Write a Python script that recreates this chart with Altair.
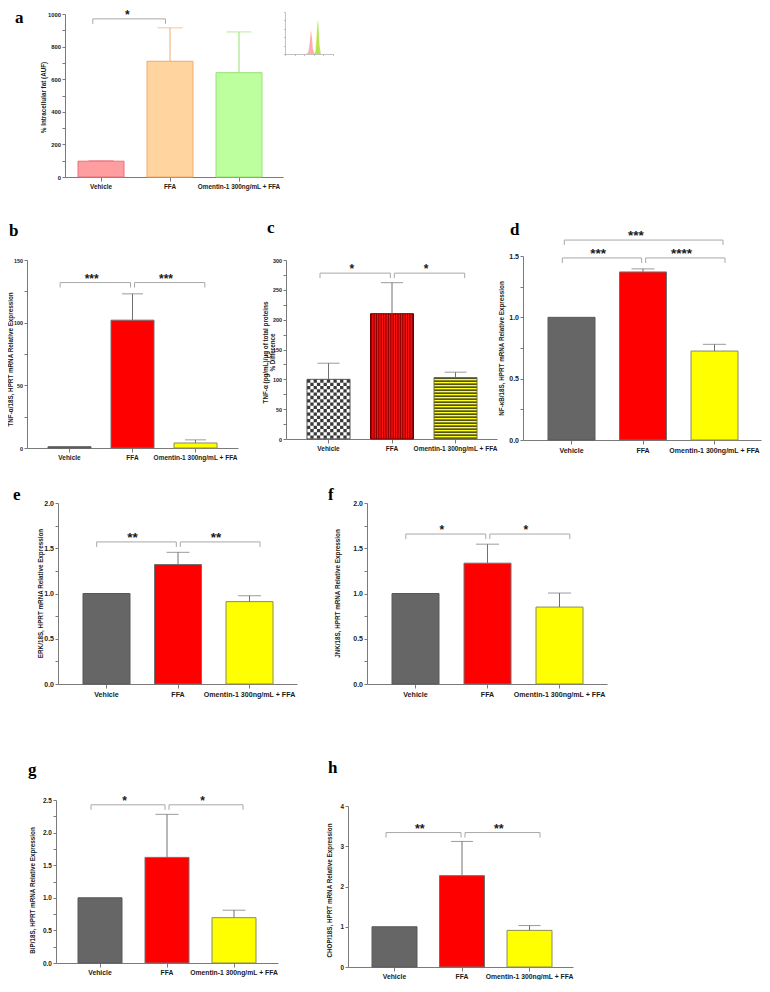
import altair as alt
import pandas as pd

# ---------------- data ----------------
CATS = ["Vehicle", "FFA", "Omentin-1 300ng/mL + FFA"]

a_mean = [97, 710, 640]
a_upper = [100, 915, 890]
b_mean = [1, 102, 4]
b_upper = [1, 123, 6.5]
c_mean = [100, 210, 103]
c_upper = [127, 262, 112]
d_mean = [1.0, 1.37, 0.725]
d_upper = [1.0, 1.395, 0.78]
e_mean = [1.0, 1.32, 0.91]
e_upper = [1.0, 1.455, 0.975]
f_mean = [1.0, 1.335, 0.85]
f_upper = [1.0, 1.545, 1.005]
g_mean = [1.0, 1.62, 0.695]
g_upper = [1.0, 2.28, 0.81]
h_mean = [1.0, 2.27, 0.91]
h_upper = [1.0, 3.12, 1.03]

# significance brackets: (group 1, group 2, level, label)
a_sig = [("Vehicle", "FFA", 970, "*")]
b_sig = [("Vehicle", "FFA", 132, "***"), ("FFA", CATS[2], 132, "***")]
c_sig = [("Vehicle", "FFA", 278, "*"), ("FFA", CATS[2], 278, "*")]
d_sig = [("Vehicle", "FFA", 1.484, "***"), ("FFA", CATS[2], 1.484, "****"),
         ("Vehicle", CATS[2], 1.63, "***")]
e_sig = [("Vehicle", "FFA", 1.57, "**"), ("FFA", CATS[2], 1.57, "**")]
f_sig = [("Vehicle", "FFA", 1.657, "*"), ("FFA", CATS[2], 1.657, "*")]
g_sig = [("Vehicle", "FFA", 2.426, "*"), ("FFA", CATS[2], 2.426, "*")]
h_sig = [("Vehicle", "FFA", 3.34, "**"), ("FFA", CATS[2], 3.34, "**")]

# inset histogram (flow cytometry overlay)
pink_x = [44, 48, 51, 53, 54, 56, 58, 61]
pink_y = [0, 3, 20, 45, 58, 40, 12, 0]
green_x = [61, 64, 66, 68, 69, 70, 72, 75]
green_y = [0, 5, 30, 70, 82, 65, 20, 0]
yellow_x = [60, 63, 65, 67, 68, 69, 71, 73]
yellow_y = [0, 6, 35, 68, 80, 60, 15, 0]

LETTERS = ["a", "b", "c", "d", "e", "f", "g", "h"]

# ---------------- layout / style ----------------
W, H = 754, 972
OFF = 8
FONT = "Liberation Sans"
SERIF = "Liberation Serif"
AXC = "#7a7a7a"
TXT = "#1a1a1a"
BRK = "#a8a8a8"
ERRC = "#707070"

GEN_FILL = ["#666666", "#FF0000", "#FFFF00"]
GEN_STROKE = ["#585858", "#707070", "#8a8a60"]
A_FILL = ["#FF9EA0", "#FFD49E", "#BDFF9E"]
A_STROKE = ["#E8707A", "#F2AA6A", "#96E272"]

LAY = {
    "a": dict(ax=65, right=283, top=14, base=177, first=78, bw=46, step=69, cap=25,
              ymax=1000, major=200, minor=100, fmt="d", sfs=12,
              title="% Intracellular fat (AUF)", tx=46, ty=97, xfs=6.4, yfs=5.8),
    "b": dict(ax=27, right=238, top=260, base=448, first=48, bw=43, step=63, cap=21,
              ymax=150, major=50, minor=25, fmt="d", sfs=12,
              title="TNF-\u03b1/18S, HPRT mRNA Relative Expression", tx=13, ty=359, xfs=6.5, yfs=5.4),
    "c": dict(ax=286, right=497, top=260, base=439, first=307, bw=43, step=63.5, cap=22,
              ymax=300, major=50, minor=25, fmt="d", sfs=12,
              title=["TNF-\u03b1 (pg/mL)/\u03bcg of total proteins", "% Difference"],
              tx=268, ty=352, xfs=6.5, yfs=5.4),
    "d": dict(ax=523, right=761, top=256, base=440, first=548, bw=47, step=71.5, cap=23,
              ymax=1.5, major=0.5, minor=0.25, fmt=".1f", sfs=13.5,
              title="NF-\u03baB/18S, HPRT mRNA Relative Expression", tx=504, ty=348, xfs=7.0, yfs=7),
    "e": dict(ax=58, right=297, top=503, base=684, first=83, bw=47, step=71.5, cap=23,
              ymax=2.0, major=0.5, minor=0.25, fmt=".1f", sfs=13.5,
              title="ERK/18S, HPRT mRNA Relative Expression", tx=43, ty=593, xfs=7.1, yfs=7),
    "f": dict(ax=367, right=607, top=503, base=684, first=392, bw=47, step=72, cap=23,
              ymax=2.0, major=0.5, minor=0.25, fmt=".1f", sfs=12,
              title="JNK/18S, HPRT mRNA Relative Expression", tx=340, ty=593, xfs=7.1, yfs=7),
    "g": dict(ax=56, right=278, top=800, base=963, first=78, bw=44, step=67, cap=23,
              ymax=2.5, major=0.5, minor=0.25, fmt=".1f", sfs=12,
              title="BiP/18S, HPRT mRNA Relative Expression", tx=35, ty=890, xfs=6.8, yfs=6.5),
    "h": dict(ax=348, right=573, top=806, base=967, first=372, bw=45, step=67.5, cap=22,
              ymax=4, major=1, minor=0.5, fmt="d", sfs=12.5,
              title="CHOP/18S, HPRT mRNA Relative Expression", tx=332, ty=890, xfs=6.8, yfs=6.3),
}

LETTER_POS = {"a": (15, 23), "b": (9, 236), "c": (267, 233), "d": (510, 235),
              "e": (13, 500), "f": (328, 500), "g": (28, 775), "h": (328, 773)}


def band_params(L):
    pi = 1 - L["bw"] / L["step"]
    span = L["right"] - L["ax"]
    po = (span / L["step"] - 3 + pi) / 2
    al = (L["first"] - L["ax"]) / (2 * po * L["step"])
    return pi, po, al


def build_panel(key, mean, upper, sig, fills, strokes, err_colors, pattern=False):
    L = LAY[key]
    df = pd.DataFrame({"cat": CATS, "mean": mean, "upper": upper})
    pi, po, al = band_params(L)

    def xs():
        return alt.Scale(domain=CATS, range=[L["ax"] - OFF, L["right"] - OFF],
                         paddingInner=pi, paddingOuter=po, align=al)

    def ys():
        return alt.Scale(domain=[0, L["ymax"]], range=[L["base"] - OFF, L["top"] - OFF],
                         nice=False, zero=False)

    def X(field="cat:N", axis=None):
        return alt.X(field, scale=xs(), axis=axis)

    def Y(field, axis=None):
        return alt.Y(field, scale=ys(), axis=axis)

    n_ticks = int(round(L["ymax"] / L["minor"]))
    tick_vals = [round(i * L["minor"], 6) for i in range(n_ticks + 1)]
    mj = L["major"]
    label_expr = f"abs(datum.value / {mj} - round(datum.value / {mj})) < 0.000001 ? datum.label : ''"
    xa = alt.Axis(orient="bottom", title=None, labelAngle=0,
                  labelFont=FONT, labelFontSize=L["xfs"], labelFontWeight="bold", labelColor=TXT,
                  labelPadding=2, labelOverlap=False, domainColor=AXC, tickColor=AXC,
                  tickSize=4, grid=False, offset=(L["base"] - OFF) - H)
    ya = alt.Axis(orient="left", values=tick_vals, labelExpr=label_expr,
                  format=L["fmt"], title=L["title"], titleX=L["tx"] - L["ax"], titleY=L["ty"] - OFF,
                  titleFont=FONT, titleFontSize=6.3, titleFontWeight="bold", titleColor=TXT,
                  titleLineHeight=7.5,
                  labelFont=FONT, labelFontSize=L["yfs"], labelFontWeight="bold", labelColor=TXT,
                  labelPadding=1.5, tickSize=3, domainColor=AXC, tickColor=AXC, grid=False,
                  offset=-(L["ax"] - OFF))

    layers = []
    base_fill = fills if not pattern else ["#FFFFFF", "#FF1010", "#FFFF20"]
    layers.append(
        alt.Chart(df).mark_bar(strokeWidth=0 if pattern else 1).encode(
            x=X("cat:N", xa),
            y=Y("mean:Q", ya),
            color=alt.Color("cat:N", scale=alt.Scale(domain=CATS, range=base_fill), legend=None),
            stroke=alt.Stroke("cat:N", scale=alt.Scale(domain=CATS, range=strokes), legend=None),
        )
    )
    if pattern:
        bw = L["bw"]
        ncol = 13
        cw = bw / ncol
        dv = df[df["cat"] == "Vehicle"]
        for j in range(ncol):
            layers.append(
                alt.Chart(dv).mark_rule(color="#3a3a3a", strokeWidth=cw, strokeDash=[cw, cw],
                                        strokeDashOffset=(cw if j % 2 else 0),
                                        xOffset=-bw / 2 + cw * (j + 0.5)).encode(
                    x=X(), y=Y("mean:Q"), y2=alt.datum(0))
            )
        nst = 18
        per = bw / nst
        dfa = df[df["cat"] == "FFA"]
        for j in range(nst):
            layers.append(
                alt.Chart(dfa).mark_rule(color="#8a0000", strokeWidth=per * 0.45,
                                         xOffset=-bw / 2 + per * (j + 0.5)).encode(
                    x=X(), y=Y("mean:Q"), y2=alt.datum(0))
            )
        dom = df[df["cat"] == CATS[2]]
        layers.append(
            alt.Chart(dom).mark_rule(color="#1a1a1a", strokeWidth=bw, strokeDash=[1.1, 1.9]).encode(
                x=X(), y=Y("mean:Q"), y2=alt.datum(0))
        )
        layers.append(
            alt.Chart(df).mark_bar(fillOpacity=0, strokeWidth=1).encode(
                x=X(), y=Y("mean:Q"),
                stroke=alt.Stroke("cat:N", scale=alt.Scale(domain=CATS, range=strokes), legend=None))
        )

    for i, cat in enumerate(CATS):
        if upper[i] <= mean[i]:
            continue
        col = err_colors[i] if isinstance(err_colors, list) else err_colors
        de = df[df["cat"] == cat]
        layers.append(
            alt.Chart(de).mark_rule(color=col, strokeWidth=1).encode(
                x=X(), y=Y("mean:Q"), y2="upper:Q")
        )
        layers.append(
            alt.Chart(de).mark_tick(color=col, size=L["cap"], thickness=1).encode(
                x=X(), y=Y("upper:Q"))
        )

    drop = 5 * L["ymax"] / (L["base"] - L["top"])
    ends = [(s[0], s[1], s[2]) for s in sig]
    for c1, c2, lvl, lab in sig:
        shift = 0
        if any(e[0] == c2 and e[2] == lvl for e in ends):
            shift = -2
        elif any(e[1] == c1 and e[2] == lvl for e in ends):
            shift = 2
        bd = pd.DataFrame({"cat": [c1, c1, c2, c2],
                           "v": [lvl - drop, lvl, lvl, lvl - drop],
                           "i": [0, 1, 2, 3]})
        layers.append(
            alt.Chart(bd).mark_line(color=BRK, strokeWidth=1, xOffset=shift).encode(
                x=X(), y=Y("v:Q"), order="i:Q")
        )
        i1, i2 = CATS.index(c1), CATS.index(c2)
        sd = pd.DataFrame({"cat": [c1], "v": [lvl], "t": [lab]})
        layers.append(
            alt.Chart(sd).mark_text(font=FONT, fontSize=L["sfs"], fontWeight="bold", color=TXT,
                                    baseline="alphabetic", dx=L["step"] * (i2 - i1) / 2 + shift,
                                    dy=0).encode(
                x=X(), y=Y("v:Q"), text="t:N")
        )
    return layers


all_layers = []
all_layers += build_panel("a", a_mean, a_upper, a_sig, A_FILL, A_STROKE, A_STROKE)
all_layers += build_panel("b", b_mean, b_upper, b_sig, GEN_FILL, GEN_STROKE, ERRC)
all_layers += build_panel("c", c_mean, c_upper, c_sig, GEN_FILL, ["#555555", "#6a0000", "#707040"], ERRC, pattern=True)
all_layers += build_panel("d", d_mean, d_upper, d_sig, GEN_FILL, GEN_STROKE, ERRC)
all_layers += build_panel("e", e_mean, e_upper, e_sig, GEN_FILL, GEN_STROKE, ERRC)
all_layers += build_panel("f", f_mean, f_upper, f_sig, GEN_FILL, GEN_STROKE, ERRC)
all_layers += build_panel("g", g_mean, g_upper, g_sig, GEN_FILL, GEN_STROKE, ERRC)
all_layers += build_panel("h", h_mean, h_upper, h_sig, GEN_FILL, GEN_STROKE, ERRC)


# inset
def ixs():
    return alt.Scale(domain=[0, 100], range=[285 - OFF, 333 - OFF], nice=False)


def iys():
    return alt.Scale(domain=[0, 100], range=[54 - OFF, 12 - OFF], nice=False)


inset_xa = alt.Axis(orient="bottom", offset=(54 - OFF) - H, labels=False, title=None, tickSize=1.5,
                    values=[0, 20, 40, 60, 80, 100], domainColor="#999999", tickColor="#999999",
                    grid=False, domainWidth=0.6, tickWidth=0.6)
inset_ya = alt.Axis(orient="left", offset=-(285 - OFF), labels=False, title=None, tickSize=1.5,
                    values=[0, 20, 40, 60, 80, 100], domainColor="#999999", tickColor="#999999",
                    grid=False, domainWidth=0.6, tickWidth=0.6)
all_layers += [
    alt.Chart(pd.DataFrame({"x": pink_x, "y": pink_y})).mark_area(color="#FF7F86", opacity=0.65).encode(
        x=alt.X("x:Q", scale=ixs(), axis=inset_xa), y=alt.Y("y:Q", scale=iys(), axis=inset_ya)),
    alt.Chart(pd.DataFrame({"x": yellow_x, "y": yellow_y})).mark_area(color="#EDE04A", opacity=0.7).encode(
        x=alt.X("x:Q", scale=ixs(), axis=None), y=alt.Y("y:Q", scale=iys(), axis=None)),
    alt.Chart(pd.DataFrame({"x": green_x, "y": green_y})).mark_area(color="#9BE236", opacity=0.7).encode(
        x=alt.X("x:Q", scale=ixs(), axis=None), y=alt.Y("y:Q", scale=iys(), axis=None)),
]

for lt in LETTERS:
    px, py = LETTER_POS[lt]
    all_layers.append(
        alt.Chart(pd.DataFrame({"t": [lt]})).mark_text(
            font=SERIF, fontSize=17, fontWeight="bold", color="#000000",
            align="left", baseline="alphabetic").encode(
            x=alt.value(px - OFF), y=alt.value(py - OFF), text="t:N")
    )

chart = alt.layer(*all_layers).resolve_scale(
    x="independent", y="independent", color="independent", stroke="independent"
).resolve_axis(x="independent", y="independent").properties(
    width=W, height=H, autosize=alt.AutoSizeParams(type="none"), padding=0, background="white"
).configure_view(stroke=None)

chart.save("out.html", embed_options={"renderer": "svg", "actions": False})
